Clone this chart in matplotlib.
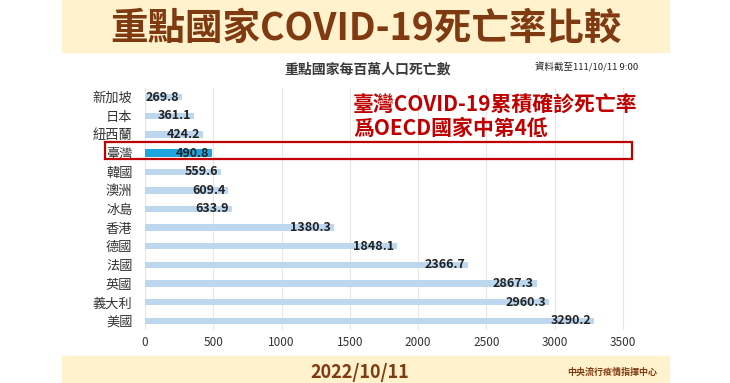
import matplotlib.pyplot as plt
from matplotlib.patches import Rectangle

plt.rcParams['font.family'] = ['Noto Sans CJK TC', 'DejaVu Sans']

countries = ['新加坡', '日本', '紐西蘭', '臺灣', '韓國', '澳洲', '冰島',
             '香港', '德國', '法國', '英國', '義大利', '美國']
deaths = [269.8, 361.1, 424.2, 490.8, 559.6, 609.4, 633.9,
          1380.3, 1848.1, 2366.7, 2867.3, 2960.3, 3290.2]
xticks = [0, 500, 1000, 1500, 2000, 2500, 3000, 3500]
highlight = '臺灣'

W, H = 730, 383
brown = '#7f3a12'
cream = '#fff2cc'

fig = plt.figure(figsize=(W / 100, H / 100), dpi=100)

# cream header / footer bands
fig.patches.append(Rectangle((62 / W, 1 - 52 / H), 607 / W, 52 / H,
                             transform=fig.transFigure, color=cream, zorder=0))
fig.patches.append(Rectangle((62 / W, 0), 607 / W, 27 / H,
                             transform=fig.transFigure, color=cream, zorder=0))

fig.text(366 / W, 1 - 28 / H, '重點國家COVID-19死亡率比較', ha='center', va='center',
         fontsize=27, fontweight='bold', color=brown)
fig.text(360 / W, 1 - 372 / H, '2022/10/11', ha='center', va='center',
         fontsize=13, fontweight='bold', color=brown)
fig.text(612 / W, 1 - 372 / H, '中央流行疫情指揮中心', ha='center', va='center',
         fontsize=6.5, fontweight='bold', color=brown)

xmax = 3700
ax_top, ax_bot = 87.7, 330.3
ax_w = 478 / 3500 * xmax
ax = fig.add_axes([145 / W, 1 - ax_bot / H, ax_w / W, (ax_bot - ax_top) / H])

y = list(range(len(countries)))
colors = ['#1ea5e0' if c == highlight else '#bdd7ee' for c in countries]
heights = [0.4 if c == highlight else 0.34 for c in countries]
ax.barh(y, deaths, height=heights, color=colors, zorder=2)
for i, v in enumerate(deaths):
    ax.annotate(f'{v:.1f}', (v, i), xytext=(-2, 0), textcoords='offset points',
                ha='right', va='center', fontsize=9, fontweight='bold',
                color='#222222', zorder=3)

ax.set_xlim(0, xmax)
ax.set_ylim(len(countries) - 0.5, -0.5)
ax.set_yticks(y)
ax.set_yticklabels(countries, fontweight='medium')
ax.set_xticks(xticks)
ax.set_xticklabels([str(t) for t in xticks], fontweight='medium')
ax.tick_params(axis='y', length=0, pad=9, labelsize=9.5, labelcolor='#333333')
ax.tick_params(axis='x', length=0, pad=4, labelsize=8.5, labelcolor='#333333')
ax.grid(axis='x', color='#e6e6e6', linewidth=0.8, zorder=0)
for s in ax.spines.values():
    s.set_visible(False)

fig.text(368 / W, 1 - 70 / H, '重點國家每百萬人口死亡數', ha='center', va='center',
         fontsize=10, fontweight='bold', color='#3a3a3a')
fig.text(638 / W, 1 - 67 / H, '資料截至111/10/11 9:00', ha='right', va='center',
         fontsize=6.8, fontweight='medium', color='#222222')

fig.text(353 / W, 1 - 104 / H, '臺灣COVID-19累積確診死亡率', ha='left', va='center',
         fontsize=15, fontweight='bold', color='#c00000')
fig.text(353 / W, 1 - 128 / H, '爲OECD國家中第4低', ha='left', va='center',
         fontsize=15, fontweight='bold', color='#c00000')

fig.patches.append(Rectangle((105 / W, 1 - 159 / H), 527 / W, 17 / H,
                             transform=fig.transFigure, fill=False,
                             edgecolor='#c00000', linewidth=1.6, zorder=5))

fig.savefig('out.png', dpi=100)
